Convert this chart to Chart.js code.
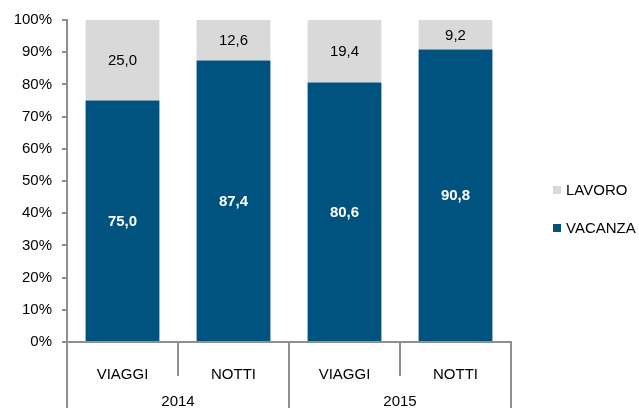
<!DOCTYPE html>
<html>
<head>
<meta charset="utf-8">
<script src="https://cdn.jsdelivr.net/npm/chart.js@4/dist/chart.umd.min.js"></script>
<style>
html,body{margin:0;padding:0;background:#fff;}
#wrap{width:639px;height:408px;}
</style>
</head>
<body>
<div id="wrap"><canvas id="c" width="639" height="408"></canvas></div>
<script>
const categories = ['VIAGGI', 'NOTTI', 'VIAGGI', 'NOTTI'];
const groups = ['2014', '2015'];
const vacanza = [75.0, 87.4, 80.6, 90.8];
const lavoro = [25.0, 12.6, 19.4, 9.2];
const seriesNames = ['VACANZA', 'LAVORO'];
const yTicks = [0, 10, 20, 30, 40, 50, 60, 70, 80, 90, 100];

const FONT = "'Liberation Sans', Arial, sans-serif";
const AXIS = '#8f8f8f';
const BLUE = '#00527f';
const GRAY = '#d9d9d9';

function fmt(v){ return v.toFixed(1).replace('.', ','); }

const overlay = {
  id: 'overlay',
  afterDraw(chart) {
    const ctx = chart.ctx;
    const x = chart.scales.x;
    const area = chart.chartArea;
    const n = categories.length;
    const cw = (x.getPixelForValue(1) - x.getPixelForValue(0));
    ctx.save();
    // separators
    ctx.strokeStyle = AXIS;
    ctx.lineWidth = 2;
    const per = n / groups.length;
    for (let i = 0; i <= n; i++) {
      const px = Math.round(x.getPixelForValue(i - 0.5));
      const isGroup = (i % per === 0);
      ctx.beginPath();
      ctx.moveTo(px, area.bottom);
      ctx.lineTo(px, isGroup ? 408 : 376);
      ctx.stroke();
    }
    // group labels
    ctx.fillStyle = '#000';
    ctx.font = '15px ' + FONT;
    ctx.textAlign = 'center';
    ctx.textBaseline = 'middle';
    groups.forEach((g, gi) => {
      const a = x.getPixelForValue(gi * per - 0.5);
      const b = x.getPixelForValue((gi + 1) * per - 0.5);
      ctx.fillText(g, (a + b) / 2, 402);
    });
    // data labels
    chart.data.datasets.forEach((ds, di) => {
      const meta = chart.getDatasetMeta(di);
      meta.data.forEach((el, i) => {
        const cy = (el.y + el.base) / 2;
        if (di === 0) {
          ctx.fillStyle = '#fff';
          ctx.font = 'bold 15px ' + FONT;
        } else {
          ctx.fillStyle = '#000';
          ctx.font = '15px ' + FONT;
        }
        ctx.fillText(fmt(ds.data[i]), el.x, cy + 1);
      });
    });
    // legend (reverse order)
    ctx.textAlign = 'left';
    ctx.font = '15px ' + FONT;
    const legendY = [190, 228];
    const order = [1, 0];
    order.forEach((di, k) => {
      const ds = chart.data.datasets[di];
      ctx.fillStyle = ds.backgroundColor;
      ctx.fillRect(553, legendY[k] - 4, 8, 8);
      ctx.fillStyle = '#000';
      ctx.fillText(ds.label, 566, legendY[k] + 1);
    });
    ctx.restore();
  }
};

new Chart(document.getElementById('c'), {
  type: 'bar',
  data: {
    labels: categories,
    datasets: [
      { label: seriesNames[0], data: vacanza, backgroundColor: BLUE, borderWidth: 0,
        categoryPercentage: 1.0, barPercentage: 0.665 },
      { label: seriesNames[1], data: lavoro, backgroundColor: GRAY, borderWidth: 0,
        categoryPercentage: 1.0, barPercentage: 0.665 }
    ]
  },
  options: {
    responsive: false,
    animation: false,
    devicePixelRatio: 1,
    layout: { padding: { top: 20, right: 128, left: 0, bottom: 0 } },
    plugins: { legend: { display: false }, tooltip: { enabled: false } },
    scales: {
      x: {
        stacked: true,
        offset: true,
        grid: { display: false },
        border: { display: true, color: AXIS, width: 2 },
        ticks: { color: '#000', font: { family: FONT, size: 15 }, padding: 16, maxRotation: 0, autoSkip: false },
        afterFit(s) { s.height = 66; }
      },
      y: {
        stacked: true,
        min: 0, max: 100,
        afterBuildTicks(s) { s.ticks = yTicks.map(v => ({ value: v })); },
        grid: { drawOnChartArea: false, drawTicks: true, tickLength: 5, color: AXIS, lineWidth: 2 },
        border: { display: true, color: AXIS, width: 2 },
        ticks: { color: '#000', font: { family: FONT, size: 15 }, padding: 10, callback: v => v + '%' },
        afterFit(s) { s.width = 67; }
      }
    }
  },
  plugins: [overlay]
});
</script>
</body>
</html>
